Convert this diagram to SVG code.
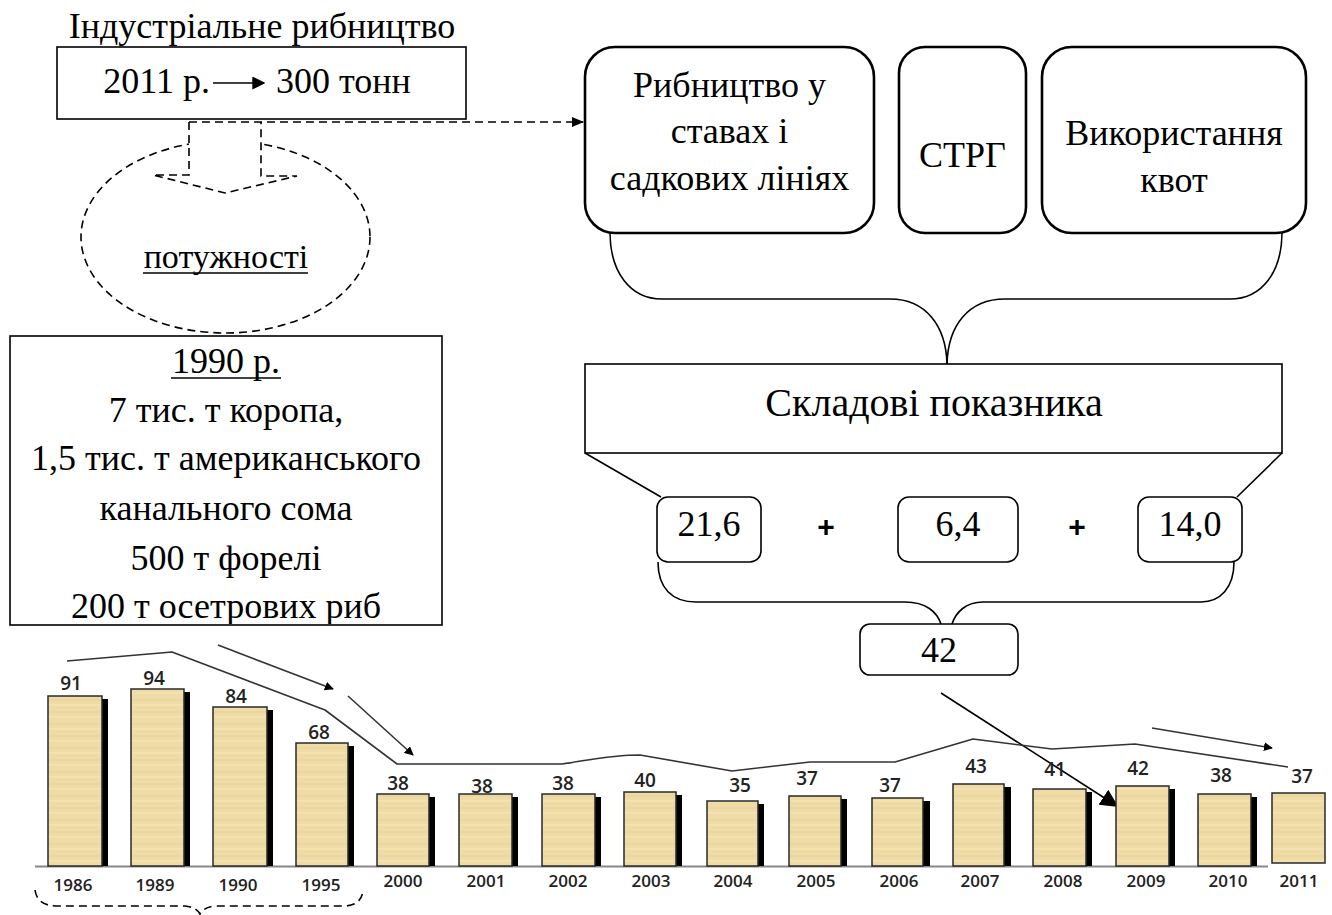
<svg xmlns="http://www.w3.org/2000/svg" width="1332" height="915" viewBox="0 0 1332 915">
<style>
.t{font-family:"Liberation Serif","Times New Roman",serif;font-size:36px;fill:#000;text-anchor:middle}
.box{fill:#fff;stroke:#000;stroke-width:1.6}
.rbox{fill:#fff;stroke:#000;stroke-width:2.6}
.vbox{fill:#fff;stroke:#000;stroke-width:1.6}
.ln{fill:none;stroke:#000;stroke-width:1.6}
.dash{fill:none;stroke:#000;stroke-width:1.6;stroke-dasharray:8 5}
.bar{fill:url(#tex);stroke:#2a2a2a;stroke-width:1.5}
.sh{fill:#000}
.val{font-family:"Open Sans","Liberation Sans",sans-serif;font-weight:600;font-size:19px;fill:#222;text-anchor:middle}
.yr{font-family:"Open Sans","Liberation Sans",sans-serif;font-weight:600;font-size:17px;fill:#222;text-anchor:middle}
.trend{fill:none;stroke:#333;stroke-width:1.6;stroke-linejoin:round}
.plus{font-family:"Liberation Sans",Arial,sans-serif;font-weight:bold;font-size:30px;fill:#000;text-anchor:middle}
</style>
<defs>
<pattern id="tex" patternUnits="userSpaceOnUse" width="54" height="12">
<rect width="54" height="12" fill="#EFDBA6"/>
<line x1="0" y1="4" x2="54" y2="4" stroke="#E2C98F" stroke-width="1" opacity="0.6"/>
<line x1="0" y1="9" x2="54" y2="9" stroke="#F6E8C2" stroke-width="1" opacity="0.7"/>
</pattern>
<marker id="ah" viewBox="0 0 10 10" refX="9" refY="5" markerWidth="9" markerHeight="9" markerUnits="userSpaceOnUse" orient="auto">
<path d="M0,0 L10,5 L0,10 z" fill="#000"/>
</marker>
<marker id="ahm" viewBox="0 0 10 10" refX="9" refY="5" markerWidth="13" markerHeight="13" markerUnits="userSpaceOnUse" orient="auto">
<path d="M0,0 L10,5 L0,10 z" fill="#000"/>
</marker>
<marker id="ahb" viewBox="0 0 10 10" refX="9" refY="5" markerWidth="18" markerHeight="18" markerUnits="userSpaceOnUse" orient="auto">
<path d="M0,0 L10,5 L0,10 z" fill="#000"/>
</marker>
<clipPath id="c1990"><rect x="10" y="337" width="431" height="287"/></clipPath>
</defs>

<g id="title">
<text class="t" x="262" y="38">Індустріальне рибництво</text>
</g>

<g id="box2011">
<rect class="box" x="57" y="47" width="409" height="72"/>
<text class="t" x="210" y="93" style="text-anchor:end">2011 р.</text>
<line class="ln" x1="213" y1="83" x2="264" y2="83" marker-end="url(#ahm)"/>
<text class="t" x="276" y="93" style="text-anchor:start">300 тонн</text>
</g>

<g id="potuzhnosti">
<ellipse class="dash" cx="225.5" cy="237" rx="144.5" ry="96"/>
<path d="M189,122 V175 H153 L225,193 L297,176 H261 V122" fill="#fff" stroke="#000" stroke-width="1.6" stroke-dasharray="8 5"/>
<text class="t" x="226" y="268" style="font-size:34px">потужності</text>
<line class="ln" x1="143" y1="273" x2="308" y2="273"/>
</g>

<g id="box1990">
<rect class="box" x="10" y="336" width="432" height="289"/>
<g clip-path="url(#c1990)">
<text class="t" x="226" y="373">1990 р.</text>
<line class="ln" x1="171" y1="378" x2="281" y2="378"/>
<text class="t" x="226" y="422">7 тис. т коропа,</text>
<text class="t" x="226" y="470">1,5 тис. т американського</text>
<text class="t" x="226" y="520">канального сома</text>
<text class="t" x="226" y="570">500 т форелі</text>
<text class="t" x="226" y="618">200 т осетрових риб</text>
</g>
</g>

<g id="boxPond">
<rect class="rbox" x="585" y="47" width="289" height="186" rx="30"/>
<text class="t" x="729.5" y="97">Рибництво у</text>
<text class="t" x="729.5" y="143">ставах і</text>
<text class="t" x="729.5" y="190">садкових лініях</text>
</g>
<g id="boxSTRG">
<rect class="rbox" x="899" y="47" width="127" height="186" rx="26"/>
<text class="t" x="962.5" y="167">СТРГ</text>
</g>
<g id="boxQuota">
<rect class="rbox" x="1042" y="47" width="264" height="186" rx="30"/>
<text class="t" x="1174" y="145">Використання</text>
<text class="t" x="1174" y="192">квот</text>
</g>

<g id="boxSkladovi">
<rect class="box" x="585" y="364" width="697" height="89"/>
<text class="t" x="934" y="416" style="font-size:40px">Складові показника</text>
</g>

<g id="v216">
<rect class="vbox" x="657" y="497" width="104" height="65" rx="11"/>
<text class="t" x="709" y="536">21,6</text>
</g>
<g id="v64">
<rect class="vbox" x="898" y="497" width="120" height="65" rx="11"/>
<text class="t" x="958" y="536">6,4</text>
</g>
<g id="v140">
<rect class="vbox" x="1138" y="497" width="104" height="65" rx="11"/>
<text class="t" x="1190" y="536">14,0</text>
</g>
<g id="plus">
<text class="plus" x="826" y="537">+</text>
<text class="plus" x="1077" y="537">+</text>
</g>
<g id="v42">
<rect class="vbox" x="860" y="624" width="158" height="51" rx="10"/>
<text class="t" x="939" y="662">42</text>
</g>

<g id="connectors">
<line class="dash" x1="189" y1="122" x2="583" y2="122"/>
<path d="M572,117 L584,122 L572,127 z" fill="#000"/>
<path class="ln" d="M610,232 C610,272 630,299 662,299 L890,299 C926,299 946,326 947,364"/>
<path class="ln" d="M1282,232 C1282,272 1262,299 1230,299 L1005,299 C968,299 948,326 947,364"/>
<line class="ln" x1="585" y1="453" x2="661" y2="497"/>
<line class="ln" x1="1282" y1="453" x2="1237" y2="497"/>
<path class="ln" d="M658,562 C658,588 672,602 696,602 L905,602 C926,602 937,612 941,624"/>
<path class="ln" d="M1234,562 C1234,588 1220,602 1201,602 L983,602 C966,602 956,612 952,624"/>
<line class="ln" x1="941" y1="693" x2="1117" y2="806" marker-end="url(#ahb)"/>
</g>

<g id="chart">
<line x1="35" y1="866.5" x2="1268" y2="866.5" stroke="#888" stroke-width="2"/>
<g id="bars">
<rect class="sh" x="54" y="699" width="54" height="167"/><rect class="bar" x="48" y="696" width="54" height="170"/>
<rect class="sh" x="137" y="692" width="53" height="174"/><rect class="bar" x="131" y="689" width="53" height="177"/>
<rect class="sh" x="219" y="710" width="54" height="156"/><rect class="bar" x="213" y="707" width="54" height="159"/>
<rect class="sh" x="302" y="746" width="52" height="120"/><rect class="bar" x="296" y="743" width="52" height="123"/>
<rect class="sh" x="383" y="797" width="52" height="69"/><rect class="bar" x="377" y="794" width="52" height="72"/>
<rect class="sh" x="465" y="797" width="53" height="69"/><rect class="bar" x="459" y="794" width="53" height="72"/>
<rect class="sh" x="548" y="797" width="53" height="69"/><rect class="bar" x="542" y="794" width="53" height="72"/>
<rect class="sh" x="630" y="795" width="52" height="71"/><rect class="bar" x="624" y="792" width="52" height="74"/>
<rect class="sh" x="713" y="804" width="51" height="62"/><rect class="bar" x="707" y="801" width="51" height="65"/>
<rect class="sh" x="795" y="799" width="52" height="67"/><rect class="bar" x="789" y="796" width="52" height="70"/>
<rect class="sh" x="878" y="801" width="52" height="65"/><rect class="bar" x="872" y="798" width="51" height="68"/>
<rect class="sh" x="959" y="787" width="52" height="79"/><rect class="bar" x="953" y="784" width="51" height="82"/>
<rect class="sh" x="1039" y="792" width="53" height="74"/><rect class="bar" x="1033" y="789" width="53" height="77"/>
<rect class="sh" x="1122" y="789" width="53" height="77"/><rect class="bar" x="1116" y="786" width="53" height="80"/>
<rect class="sh" x="1204" y="797" width="53" height="69"/><rect class="bar" x="1198" y="794" width="53" height="72"/>
<rect class="bar" x="1272" y="793" width="53" height="70"/>
</g>
<g id="values">
<text class="val" x="71" y="690">91</text>
<text class="val" x="154" y="685">94</text>
<text class="val" x="236" y="703">84</text>
<text class="val" x="319" y="739">68</text>
<text class="val" x="398" y="790">38</text>
<text class="val" x="482" y="793">38</text>
<text class="val" x="563" y="790">38</text>
<text class="val" x="645" y="787">40</text>
<text class="val" x="740" y="792">35</text>
<text class="val" x="807" y="785">37</text>
<text class="val" x="890" y="792">37</text>
<text class="val" x="976" y="773">43</text>
<text class="val" x="1055" y="776">41</text>
<text class="val" x="1138" y="775">42</text>
<text class="val" x="1221" y="782">38</text>
<text class="val" x="1302" y="783">37</text>
</g>
<g id="years">
<text class="yr" x="73" y="891">1986</text>
<text class="yr" x="155" y="891">1989</text>
<text class="yr" x="238" y="891">1990</text>
<text class="yr" x="321" y="891">1995</text>
<text class="yr" x="403" y="887">2000</text>
<text class="yr" x="486" y="887">2001</text>
<text class="yr" x="568" y="887">2002</text>
<text class="yr" x="651" y="887">2003</text>
<text class="yr" x="733" y="887">2004</text>
<text class="yr" x="816" y="887">2005</text>
<text class="yr" x="899" y="887">2006</text>
<text class="yr" x="980" y="887">2007</text>
<text class="yr" x="1063" y="887">2008</text>
<text class="yr" x="1146" y="887">2009</text>
<text class="yr" x="1228" y="887">2010</text>
<text class="yr" x="1299" y="887">2011</text>
</g>
<path class="trend" d="M67,661 L172,652 L325,710 L397,764 L562,764 C590,760 610,755 640,755 L732,771 L810,762 L895,762 L973,739 L1052,749 L1135,744 L1288,767"/>
<line class="trend" x1="218" y1="645" x2="333" y2="689" marker-end="url(#ah)"/>
<line class="trend" x1="348" y1="696" x2="413" y2="755" marker-end="url(#ah)"/>
<line class="trend" x1="1152" y1="728" x2="1272" y2="748" marker-end="url(#ah)"/>
<path class="dash" d="M35,890 Q37,905 55,906 L185,906 Q196,907 200,914 Q204,907 215,906 L345,906 Q362,905 363,890"/>
</g>
</svg>
